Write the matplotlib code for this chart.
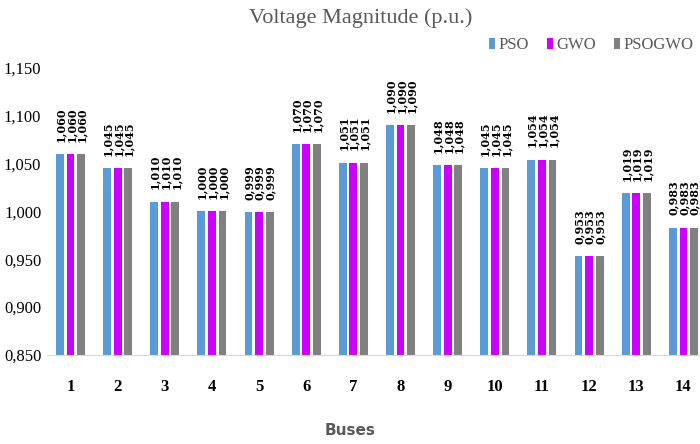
import numpy as np
import matplotlib.pyplot as plt

buses = [str(i) for i in range(1, 15)]
pso = [1.060, 1.045, 1.010, 1.000, 0.999, 1.070, 1.051, 1.090, 1.048, 1.045, 1.054, 0.953, 1.019, 0.983]
gwo = [1.060, 1.045, 1.010, 1.000, 0.999, 1.070, 1.051, 1.090, 1.048, 1.045, 1.054, 0.953, 1.019, 0.983]
psogwo = [1.060, 1.045, 1.010, 1.000, 0.999, 1.070, 1.051, 1.090, 1.048, 1.045, 1.054, 0.953, 1.019, 0.983]
series_names = ['PSO', 'GWO', 'PSOGWO']
colors = ['#5B9BD5', '#CC00FF', '#808080']
yticks = [0.85, 0.90, 0.95, 1.00, 1.05, 1.10, 1.15]

serif = 'Liberation Serif'

fig = plt.figure(figsize=(7, 4.44), dpi=100)
ax = fig.add_axes([0.067, 0.2005, 0.943, 0.6466])

index = np.arange(len(buses))
width = 0.165
step = 0.225
handles = []
for k, (vals, c) in enumerate(zip([pso, gwo, psogwo], colors)):
    xs = index + (k - 1) * step
    b = ax.bar(xs, np.array(vals) - 0.85, width, bottom=0.85, color=c)
    handles.append(b)
    # value labels, rotated, comma as decimal separator
    for x, v in zip(xs, vals):
        ax.annotate(f'{v:.3f}'.replace('.', ','), (x, v), xytext=(0.5, 9),
                    textcoords='offset points', rotation=90, ha='center', va='bottom',
                    fontsize=8, fontweight='bold', family='DejaVu Serif', color='black')

ax.set_xlim(-0.5, len(buses) - 0.5)
ax.set_ylim(0.85, 1.15)
ax.set_yticks(yticks)
ax.set_yticklabels([f'{t:.3f}'.replace('.', ',') for t in yticks], family=serif, fontsize=12)
ax.set_xticks(index)
ax.set_xticklabels(buses, family=serif, fontsize=12, fontweight='bold')
ax.tick_params(axis='both', length=0)
ax.tick_params(axis='x', pad=17)
ax.tick_params(axis='y', pad=4)
for s in ['top', 'right', 'left']:
    ax.spines[s].set_visible(False)
ax.spines['bottom'].set_color('#D9D9D9')

fig.text(0.515, 0.96, 'Voltage Magnitude (p.u.)', ha='center', va='center',
         family=serif, fontsize=16, color='#595959')
fig.text(0.5, 0.03, 'Buses', ha='center', va='center', family='DejaVu Sans',
         fontsize=11, fontweight='bold', color='#595959')

fig.legend(handles, series_names, loc='center right', bbox_to_anchor=(1.012, 0.898),
           ncol=3, frameon=False, handlelength=0.35, handleheight=0.7, handletextpad=0.2,
           columnspacing=1.1, prop={'family': serif, 'size': 12},
           labelcolor='#595959')

fig.savefig('out.png', dpi=100)
